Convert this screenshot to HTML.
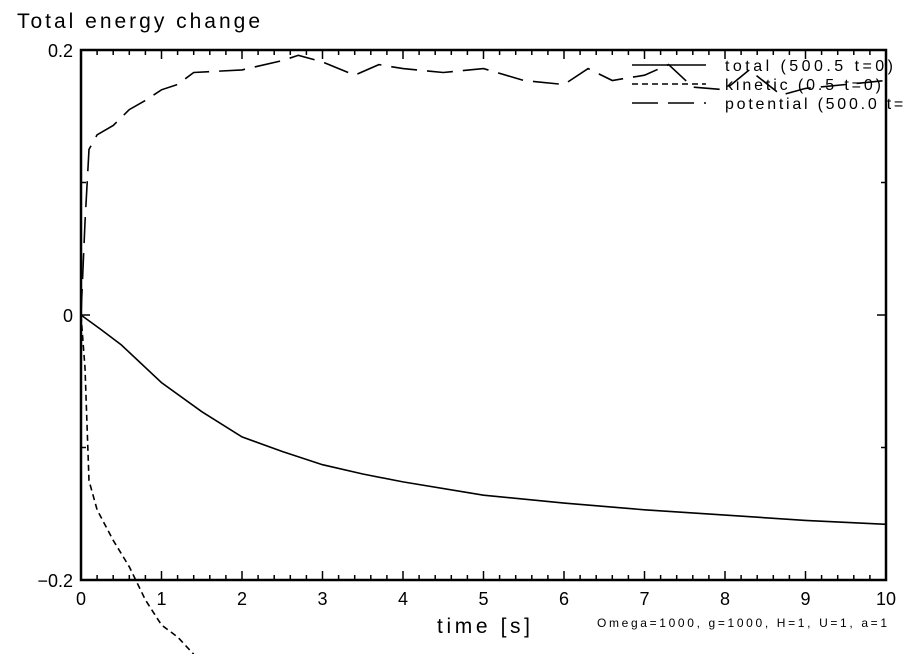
<!DOCTYPE html>
<html><head><meta charset="utf-8"><style>
html,body{margin:0;padding:0;background:#fff;overflow:hidden}
svg{display:block;font-family:"Liberation Sans",sans-serif}
</style></head><body>
<svg id="c" width="904" height="654" viewBox="0 0 904 654">
<text x="17" y="28" font-size="21" textLength="243" lengthAdjust="spacing">Total energy change</text>
<g id="axes"></g><g id="series"></g>
<text x="437" y="633" font-size="21" textLength="93" lengthAdjust="spacing">time [s]</text>
<text x="597" y="627" font-size="12" textLength="290" lengthAdjust="spacing">Omega=1000, g=1000, H=1, U=1, a=1</text>
<g font-size="16">
<line x1="632" y1="65" x2="706" y2="65" stroke="#000" stroke-width="1.5"/>
<text x="725" y="71" textLength="168" lengthAdjust="spacing">total (500.5 t=0)</text>
<line x1="632" y1="84" x2="706" y2="84" stroke="#000" stroke-width="1.5" stroke-dasharray="6,4"/>
<text x="725" y="90" textLength="156" lengthAdjust="spacing">kinetic (0.5 t=0)</text>
<line x1="632" y1="103" x2="706" y2="103" stroke="#000" stroke-width="1.5" stroke-dasharray="26,10"/>
<text x="725" y="109" textLength="198" lengthAdjust="spacing">potential (500.0 t=0)</text>
</g>
</svg>
<script>
const totalT=[0,0.25,0.5,1,1.5,2,2.5,3,3.5,4,5,6,7,8,9,10];
const totalV=[0,-0.011,-0.0226,-0.051,-0.073,-0.092,-0.103,-0.113,-0.12,-0.126,-0.136,-0.142,-0.147,-0.151,-0.155,-0.158];
const kinT=[0,0.05,0.1,0.2,0.4,0.6,0.8,1.0,1.2,1.4];
const kinV=[0,-0.04,-0.125,-0.147,-0.17,-0.19,-0.215,-0.234,-0.243,-0.256];
const potT=[0,0.05,0.1,0.2,0.4,0.6,0.8,1.0,1.2,1.4,2,2.5,2.7,3,3.4,3.7,4,4.5,5,5.5,6,6.3,6.6,7,7.3,7.6,8,8.3,8.7,9,9.5,10];
const potV=[0,0.07,0.125,0.136,0.143,0.155,0.162,0.17,0.174,0.183,0.185,0.192,0.196,0.191,0.181,0.189,0.186,0.183,0.186,0.177,0.174,0.186,0.177,0.181,0.189,0.172,0.17,0.185,0.166,0.171,0.174,0.177];
const xTicks=[0,1,2,3,4,5,6,7,8,9,10];
const yTicks=[0.2,0,-0.2];
const yTickLabels=["0.2","0","\u22120.2"];
const X0=81,X1=886,Y0=50,Y1=580;
const sx=t=>X0+(t-0)/(10-0)*(X1-X0);
const sy=v=>Y0+(0.2-v)/(0.4)*(Y1-Y0);
const NS="http://www.w3.org/2000/svg";
const axes=document.getElementById('axes'),ser=document.getElementById('series');
function mk(tag,attrs,parent){const e=document.createElementNS(NS,tag);for(const k in attrs)e.setAttribute(k,attrs[k]);parent.appendChild(e);return e;}
const fr=mk('rect',{x:X0,y:Y0,width:X1-X0,height:Y1-Y0,fill:'none',stroke:'#000','stroke-width':2.5},axes);


for(let i=0;i<=50;i++){const t=i*0.2,x=sx(t),L=(i%5==0)?9:5;
 mk('line',{x1:x,y1:Y1,x2:x,y2:Y1-L,stroke:'#000','stroke-width':1.5},axes);
 mk('line',{x1:x,y1:Y0,x2:x,y2:Y0+L,stroke:'#000','stroke-width':1.5},axes);}
for(let i=0;i<=4;i++){const v=0.2-i*0.1,y=sy(v),L=(i%2==0)?9:5;
 mk('line',{x1:X0,y1:y,x2:X0+L,y2:y,stroke:'#000','stroke-width':1.5},axes);
 mk('line',{x1:X1,y1:y,x2:X1-L,y2:y,stroke:'#000','stroke-width':1.5},axes);}
xTicks.forEach(t=>{const e=mk('text',{x:sx(t),y:605,'font-size':18,'text-anchor':'middle'},axes);e.textContent=t;
 
 });
yTicks.forEach((v,i)=>{const e=mk('text',{x:73,y:sy(v)+7,'font-size':18,'text-anchor':'end'},axes);e.textContent=yTickLabels[i];
 
 });
function line(T,V,dash,name){const d=T.map((t,i)=>(i?'L':'M')+sx(t).toFixed(1)+','+sy(V[i]).toFixed(1)).join('');
 const p=mk('path',{d:d,fill:'none',stroke:'#000','stroke-width':1.6},ser);if(dash)p.setAttribute('stroke-dasharray',dash);
 
 }
line(totalT,totalV,null,'total-line');
line(kinT,kinV,'6,4','kinetic-line');
line(potT,potV,'26,10','potential-line');
</script>
</body></html>
